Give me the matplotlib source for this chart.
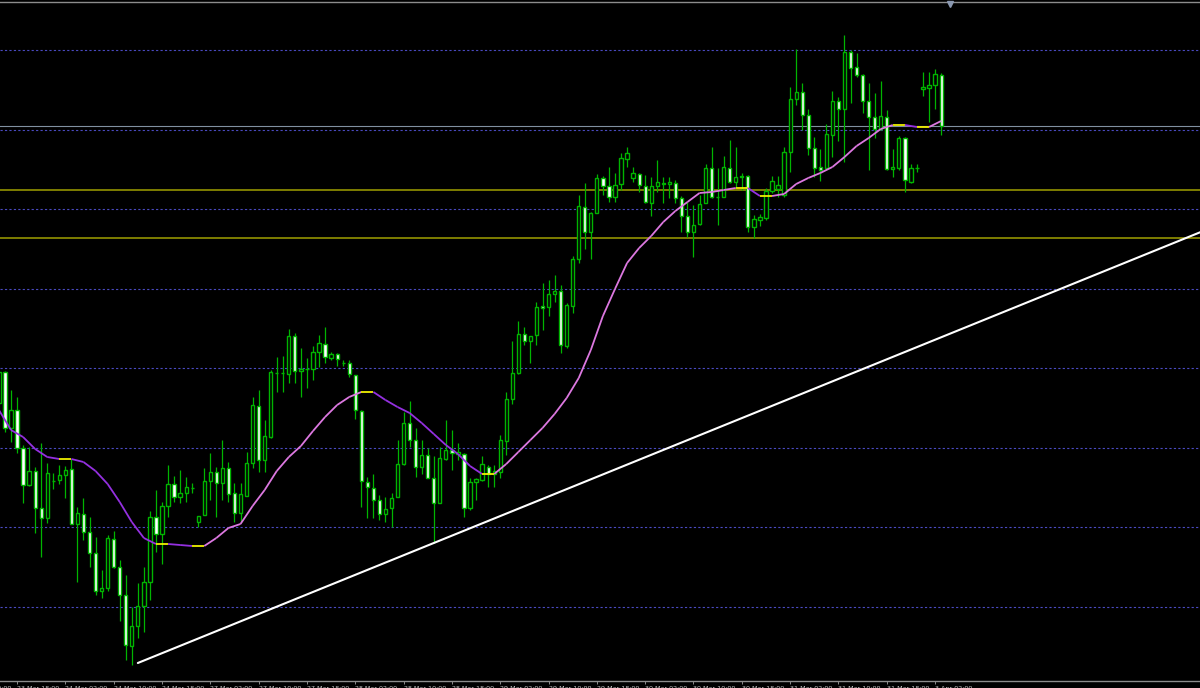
import matplotlib
matplotlib.use("Agg")
import matplotlib.pyplot as plt
import numpy as np
from matplotlib.collections import LineCollection
from matplotlib.patches import Rectangle
from matplotlib.transforms import blended_transform_factory, offset_copy

# hourly candles, 23 Mar 15:00 .. 3 Apr 03:00 (price in points)
opens = [297, 328, 272, 290, 252, 215, 229, 192, 182, 219,
         220, 225, 231, 176, 186, 168, 147, 109, 112, 161,
         133, 105, 54, 74, 94, 118, 183, 166, 194, 216,
         203, 207, 212, 178, 185, 219, 228, 217, 232, 207,
         187, 204, 237, 294, 240, 263, 327, 327, 326, 364,
         329, 331, 331, 348, 356, 342, 346, 337, 337, 325,
         289, 218, 212, 200, 186, 192, 203, 236, 277, 260,
         233, 245, 222, 197, 241, 250, 246, 246, 192, 218,
         220, 233, 226, 228, 259, 301, 327, 366, 359, 365,
         394, 393, 406, 409, 354, 394, 441, 493, 468, 487,
         522, 514, 503, 516, 541, 522, 526, 514, 497, 514,
         517, 516, 517, 502, 484, 468, 476, 497, 532, 503,
         503, 532, 518, 524, 524, 473, 480, 482, 509, 511,
         505, 548, 601, 608, 585, 552, 533, 532, 565, 599,
         591, 648, 633, 625, 599, 583, 571, 583, 531, 532,
         562, 518, 532, 611, 612, 615, 625]
highs = [330, 329, 310, 303, 255, 253, 233, 257, 237, 227,
         235, 234, 241, 193, 202, 183, 163, 130, 165, 169,
         140, 125, 93, 117, 133, 189, 210, 198, 235, 224,
         230, 223, 217, 184, 232, 247, 233, 260, 238, 217,
         217, 248, 303, 310, 280, 330, 343, 344, 371, 367,
         352, 342, 354, 365, 373, 348, 347, 340, 340, 325,
         290, 223, 226, 205, 203, 207, 260, 288, 299, 272,
         260, 252, 244, 253, 280, 270, 257, 247, 222, 222,
         244, 235, 235, 265, 308, 359, 379, 373, 364, 398,
         417, 420, 425, 415, 397, 444, 505, 517, 488, 526,
         524, 533, 527, 547, 553, 533, 527, 525, 523, 540,
         523, 523, 520, 504, 498, 495, 505, 536, 553, 532,
         544, 560, 553, 527, 525, 485, 486, 512, 524, 524,
         553, 613, 651, 617, 591, 563, 551, 576, 609, 603,
         665, 650, 647, 626, 617, 607, 619, 590, 551, 564,
         563, 536, 536, 628, 628, 631, 627]
lows = [295, 268, 258, 247, 197, 214, 167, 143, 177, 211,
        216, 202, 176, 118, 160, 133, 105, 102, 109, 132,
        79, 40, 35, 62, 68, 100, 148, 136, 183, 198,
        197, 198, 207, 173, 185, 200, 183, 200, 198, 178,
        178, 204, 232, 228, 228, 262, 308, 308, 317, 317,
        303, 312, 320, 333, 337, 340, 334, 334, 323, 281,
        193, 182, 182, 180, 178, 173, 203, 235, 253, 223,
        226, 222, 157, 197, 240, 230, 240, 183, 190, 200,
        219, 213, 213, 222, 245, 296, 326, 355, 337, 355,
        370, 384, 398, 347, 352, 387, 437, 451, 441, 487,
        505, 498, 498, 510, 533, 518, 508, 497, 484, 508,
        497, 502, 497, 468, 463, 443, 475, 497, 502, 475,
        503, 517, 513, 510, 468, 462, 474, 480, 507, 503,
        503, 528, 595, 570, 545, 523, 519, 531, 543, 559,
        538, 597, 623, 587, 530, 562, 570, 530, 523, 530,
        508, 517, 528, 604, 578, 591, 565]
closes = [328, 272, 290, 252, 215, 229, 192, 182, 227, 219,
          225, 230, 176, 187, 168, 147, 109, 112, 162, 133,
          105, 55, 74, 94, 118, 183, 166, 194, 216, 203,
          207, 213, 212, 184, 219, 228, 217, 232, 206, 187,
          206, 237, 295, 240, 264, 328, 327, 327, 364, 329,
          331, 331, 348, 357, 343, 346, 341, 337, 326, 290,
          219, 213, 200, 186, 191, 202, 236, 277, 260, 233,
          245, 222, 197, 242, 250, 247, 248, 192, 218, 221,
          236, 226, 229, 260, 301, 327, 366, 359, 364, 393,
          392, 406, 409, 355, 395, 441, 494, 468, 487, 522,
          514, 503, 515, 542, 547, 527, 515, 498, 514, 518,
          516, 518, 502, 484, 468, 475, 496, 532, 503, 503,
          533, 518, 523, 523, 473, 481, 483, 509, 519, 515,
          548, 601, 608, 585, 552, 532, 530, 566, 599, 591,
          648, 632, 625, 599, 583, 571, 584, 531, 533, 562,
          520, 532, 532, 613, 615, 626, 574]

# moving average read every second candle
ma_index = list(range(0, 157, 2))
ma_values = [290, 270, 263, 251, 243, 241, 241, 238, 229, 216,
             198, 178, 162, 156, 156, 155, 154, 154, 162, 172,
             176, 194, 210, 229, 243, 254, 269, 283, 295, 303,
             308, 308, 300, 293, 287, 277, 266, 255, 246, 234,
             226, 226, 236, 248, 260, 272, 286, 302, 322, 350,
             384, 411, 437, 452, 464, 478, 489, 498, 507, 508,
             510, 512, 512, 504, 504, 506, 516, 522, 527, 533,
             543, 554, 562, 571, 575, 575, 573, 573, 579]

label_index = [-5, 3, 11, 19, 27, 35, 43, 51, 59, 67, 75,
               83, 91, 99, 107, 115, 123, 131, 139, 147, 155]
time_labels = ["23 Mar 10:00", "23 Mar 18:00", "24 Mar 02:00", "24 Mar 10:00",
               "24 Mar 18:00", "27 Mar 02:00", "27 Mar 10:00", "27 Mar 18:00",
               "28 Mar 02:00", "28 Mar 10:00", "28 Mar 18:00", "29 Mar 02:00",
               "29 Mar 10:00", "29 Mar 18:00", "30 Mar 02:00", "30 Mar 10:00",
               "30 Mar 18:00", "31 Mar 02:00", "31 Mar 10:00", "31 Mar 18:00",
               "3 Apr 02:00"]

grid_levels = [93.0, 172.6, 252.1, 331.7, 411.3, 490.9, 570.4, 650.0]
sr_levels = [510, 462]
trend_x = [23, 72]
trend_y = [37, 157]

GREEN = "#00b400"
GRID = "#4a4ac0"
AXIS = "#8c8c8c"
LABEL = "#c8c8c8"

fig = plt.figure(figsize=(12, 6.88), dpi=100, facecolor="black")
ax = fig.add_axes([0, 7 / 688, 1, (681 - 1.5) / 688])
ax.set_facecolor("black")
x_left, x_right = 0.18, 198.86
ax.set_xlim(x_left, x_right)
ax.set_ylim(19, 698.5)

for lv in grid_levels:
    ax.axhline(lv, color=GRID, lw=0.8, dashes=(2, 2), zorder=1)
for lv in sr_levels:
    ax.axhline(lv, color="#a0a000", lw=1.1, zorder=2)
ax.axhline(closes[-1], color="#8090a0", lw=0.8, zorder=2)

# candles
xs = np.arange(len(opens))
ax.vlines(xs, lows, highs, color=GREEN, lw=0.9, zorder=3)
for i in xs:
    o, c = opens[i], closes[i]
    face = "white" if c < o else "black"
    ax.add_patch(Rectangle((i - 0.27, min(o, c)), 0.54, abs(c - o),
                           facecolor=face, edgecolor=GREEN, lw=1.0, zorder=4))

# moving average coloured by direction
pts = np.column_stack([ma_index, ma_values])
segs = [pts[i:i + 2] for i in range(len(pts) - 1)]
diffs = np.diff(ma_values)
cols = ["#dc78e0" if d > 0 else "#9430e0" if d < 0 else "#f0f000" for d in diffs]
ax.add_collection(LineCollection(segs, colors=cols, linewidths=1.3, zorder=5))

# trend line (ray to the right edge)
slope = (trend_y[1] - trend_y[0]) / (trend_x[1] - trend_x[0])
x_end = x_right + 1
ax.plot([trend_x[0], x_end], [trend_y[0], trend_y[0] + slope * (x_end - trend_x[0])],
        color="white", lw=1.5, zorder=6, solid_capstyle="round")

for side in ["left", "right"]:
    ax.spines[side].set_visible(False)
for side in ["top", "bottom"]:
    ax.spines[side].set_color(AXIS)
    ax.spines[side].set_linewidth(1.0)

ax.set_yticks([])
ax.set_xticks(label_index[1:])
ax.set_xticklabels(time_labels[1:])
ax.tick_params(axis="x", direction="out", length=2.5, width=0.7, color=AXIS,
               labelcolor=LABEL, labelsize=4.6, pad=0.8)
for t in ax.get_xticklabels():
    t.set_horizontalalignment("left")

trans = offset_copy(blended_transform_factory(ax.transData, ax.transAxes),
                    fig=fig, x=0, y=-3.3, units="points")
ax.text(label_index[0], 0, time_labels[0], transform=trans, ha="left", va="top",
        fontsize=4.6, color=LABEL, clip_on=False)

# chart shift marker
ax.plot([950 / 1200], [0.9965], marker="v", ms=4.2, color="#8a98b0",
        transform=ax.transAxes, clip_on=False, zorder=7)

fig.savefig("out.png", dpi=100, facecolor="black")
